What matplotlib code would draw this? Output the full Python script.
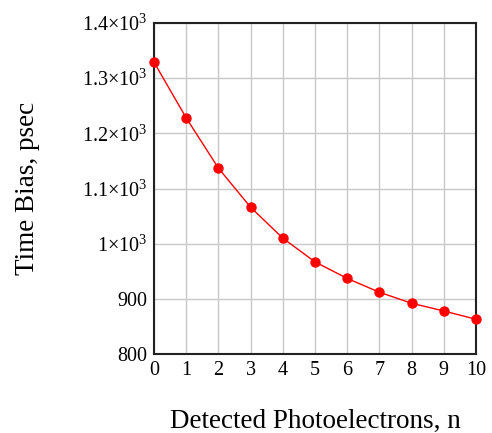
import numpy as np
import matplotlib
matplotlib.use("Agg")
import matplotlib.pyplot as plt

plt.rcParams['font.family'] = ['Liberation Serif', 'DejaVu Serif']
plt.rcParams['mathtext.fontset'] = 'custom'
plt.rcParams['mathtext.rm'] = 'Liberation Serif'
plt.rcParams['mathtext.it'] = 'Liberation Serif:italic'

n = [0, 1, 2, 3, 4, 5, 6, 7, 8, 9, 10]
bias = [1329, 1228, 1137, 1066, 1010, 967, 937, 912, 892, 878, 863]

yticks = [800, 900, 1000, 1100, 1200, 1300, 1400]
ylabels = ['800', '900', r'$\mathregular{1{\times}10^3}$', r'$\mathregular{1.1{\times}10^3}$',
           r'$\mathregular{1.2{\times}10^3}$', r'$\mathregular{1.3{\times}10^3}$',
           r'$\mathregular{1.4{\times}10^3}$']

fig = plt.figure(figsize=(4.92, 4.33), dpi=100)
ax = fig.add_axes([0.313, 0.1824, 0.6545, 0.7645])

ax.plot(n, bias, '-o', color='red', lw=1, ms=6.5, clip_on=False, zorder=3)

ax.set_xlim(0, 10)
ax.set_ylim(800, 1400)
ax.set_xticks(n)
ax.set_yticks(yticks)
ax.set_yticklabels(ylabels)
ax.tick_params(length=0, labelsize=14.5, pad=5)
ax.grid(True, color='#c8c8c8', lw=1)
ax.set_axisbelow(True)
for s in ax.spines.values():
    s.set_linewidth(1.5)
    s.set_color('#222222')

ax.set_xlabel('Detected Photoelectrons, n', fontsize=19.5, labelpad=21)
ax.set_ylabel('Time Bias, psec', fontsize=19.5, labelpad=30)

fig.savefig('out.png', dpi=100)
